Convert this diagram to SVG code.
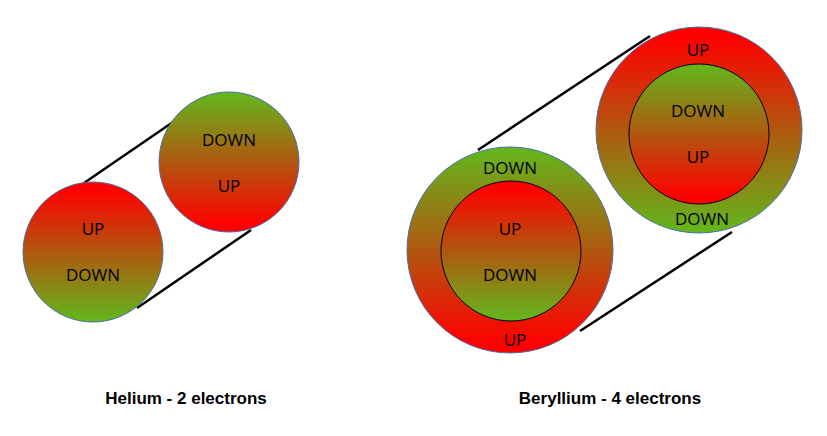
<svg xmlns="http://www.w3.org/2000/svg" width="827" height="436" viewBox="0 0 827 436">
<defs>
<linearGradient id="rg" x1="0" y1="0" x2="0" y2="1"><stop offset="0.05" stop-color="#ff0000"/><stop offset="0.5" stop-color="#b0580f"/><stop offset="1" stop-color="#62b81c"/></linearGradient>
<linearGradient id="gr" x1="0" y1="0" x2="0" y2="1"><stop offset="0" stop-color="#62b81c"/><stop offset="0.5" stop-color="#b0580f"/><stop offset="0.95" stop-color="#ff0000"/></linearGradient>
</defs>
<style>
.ring{stroke:#4a6fa8;stroke-width:1}
.in{stroke:#000;stroke-width:1}
.t{font-family:"Open Sans","DejaVu Sans",sans-serif;font-size:17px;fill:#000;text-anchor:middle}
.cap{font-family:"Liberation Sans",Arial,sans-serif;font-size:17px;font-weight:bold;fill:#000;text-anchor:middle}
.c{stroke:#000;stroke-width:2.5;fill:none}
</style>
<g id="connectors">
<line class="c" x1="84" y1="183" x2="176" y2="120"/>
<line class="c" x1="137" y1="308" x2="251" y2="230"/>
<line class="c" x1="478" y1="150" x2="650" y2="36"/>
<line class="c" x1="580" y1="331" x2="732" y2="232"/>
</g>
<g id="he1"><circle class="ring" cx="93" cy="252" r="70" fill="url(#rg)"/><text class="t" x="93" y="235">UP</text><text class="t" x="93" y="281">DOWN</text></g>
<g id="he2"><circle class="ring" cx="229" cy="162" r="70" fill="url(#gr)"/><text class="t" x="229" y="146">DOWN</text><text class="t" x="229" y="192">UP</text></g>
<g id="be1"><circle class="ring" cx="510" cy="250" r="103" fill="url(#gr)"/><circle class="in" cx="511" cy="251" r="70" fill="url(#rg)"/>
<text class="t" x="510" y="174">DOWN</text><text class="t" x="510" y="235">UP</text><text class="t" x="510" y="281">DOWN</text><text class="t" x="515" y="346">UP</text></g>
<g id="be2"><circle class="ring" cx="699" cy="130" r="103" fill="url(#rg)"/><circle class="in" cx="699" cy="134" r="70" fill="url(#gr)"/>
<text class="t" x="698" y="56">UP</text><text class="t" x="698" y="117">DOWN</text><text class="t" x="698" y="163">UP</text><text class="t" x="702" y="225">DOWN</text></g>
<text class="cap" x="186" y="404">Helium -  2 electrons</text>
<text class="cap" x="610" y="404">Beryllium -  4 electrons</text>
</svg>
